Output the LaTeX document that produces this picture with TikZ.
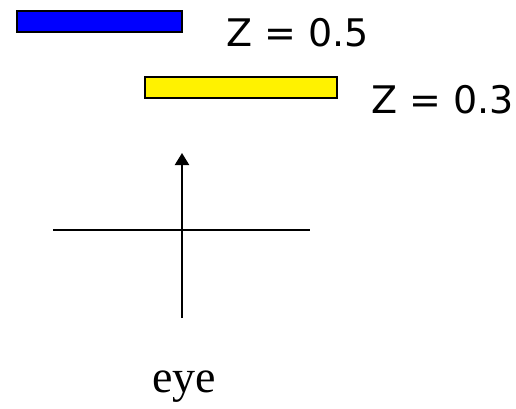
\documentclass[tikz,border=0pt]{standalone}
\usepackage{fontspec}
\setmainfont{Liberation Serif}
\newfontfamily\zfont{DejaVu Sans}
\usetikzlibrary{positioning}
\usetikzlibrary{shapes, arrows.meta}
\tikzstyle{plane}   = [rectangle, draw, line width=1.8pt, inner sep=0pt]
\tikzstyle{zlabel}  = [anchor=base west, inner sep=0pt, font=\zfont\fontsize{38}{42}\selectfont]
\tikzstyle{axis}    = [line width=2.2pt]
\tikzstyle{arrow}   = [axis, -{Triangle[width=14pt, length=12pt]}]

\begin{document}
\begin{tikzpicture}[x=1pt, y=1pt]
\useasboundingbox (0,0) rectangle (516,408);
\node (far plane) [plane, fill=blue, minimum width=165pt, minimum height=21pt] at (99.5,386.5) {};
\node (near plane) [plane, fill=yellow, minimum width=192pt, minimum height=21pt] at (241,320.5) {};
\node (far z) [zlabel] at (226,361) {Z = 0.5};
\node (near z) [zlabel] at (371,295) {Z = 0.3};
\coordinate (eye bottom) at (182,90);
\coordinate (view tip) at (182,255);
\coordinate (left end) at (53,178);
\coordinate (right end) at (310,178);
\node (eye) [anchor=base, inner sep=0pt, font=\fontsize{46}{50}\selectfont] at (184,16) {eye};
\draw [arrow] (eye bottom) -- (view tip);
\draw [axis] (left end) -- (right end);
\end{tikzpicture}
\end{document}
